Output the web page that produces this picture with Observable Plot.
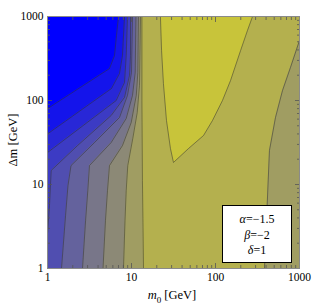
<!DOCTYPE html>
<html><head><meta charset="utf-8">
<script src="https://cdn.jsdelivr.net/npm/d3@7"></script>
<script src="https://cdn.jsdelivr.net/npm/@observablehq/plot@0.6"></script>
<style>
html,body{margin:0;padding:0;background:#fff;}
#wrap{position:relative;width:312px;height:304px;font-family:"Liberation Serif",serif;color:#000;}
#wrap svg{position:absolute;left:0;top:0;}
.xlab{position:absolute;left:122px;width:100px;top:288px;text-align:center;font-size:12.5px;line-height:14px;}
.ylab{position:absolute;left:-37px;top:133px;width:100px;text-align:center;font-size:12.5px;line-height:14px;transform:rotate(-90deg);}
.legend{position:absolute;left:222px;top:205px;width:68px;height:50px;border:1.5px solid #000;background:#fff;text-align:center;font-size:12px;line-height:15.5px;padding-top:6px;box-sizing:content-box;}
</style></head><body><div id="wrap"></div>
<script>
// axis ticks
const majorTicks = [1, 10, 100, 1000];
const minorTicks = [2,3,4,5,6,7,8,9,20,30,40,50,60,70,80,90,200,300,400,500,600,700,800,900];

// contour lines, [m0, Δm] in GeV (left → right)
const contourA = [[7.0,1000],[6.63,594],[6.28,343],[5.47,240],[1.0,80],[0.48,49],[0.48,1]];
const contourB = [[8.26,1000],[7.81,343],[7.20,210],[5.78,139],[1.0,40],[0.48,24],[0.48,1]];
const contourC = [[8.96,1000],[8.65,343],[8.26,164],[6.58,100],[1.0,24],[0.48,13.7],[0.48,1]];
const contourD = [[9.73,1000],[9.73,343],[9.47,199],[8.26,109],[5.73,66.3],[2.28,29.1],[1.107,14.7],[1.056,5.62],[1.0,2.61],[0.947,1]];
const contourE = [[10.28,1000],[10.0,215],[8.96,115],[7.20,62.8],[3.63,31.6],[1.905,16.8],[1.754,9.73],[1.64,4.28],[1.468,1]];
const contourF = [[11.3,1000],[11.07,215],[10.28,115],[8.65,61.1],[5.73,31.6],[3.16,16.8],[3.02,8.48],[2.84,3.73],[2.61,1]];
const contourG = [[12.1,1000],[11.9,215],[11.4,115],[9.92,54.7],[7.81,29.1],[5.47,16.8],[5.18,8.48],[4.90,3.73],[4.58,1]];
const contourH = [[12.8,1000],[12.6,343],[12.45,151],[11.7,72],[10.36,35.3],[9.03,16.8],[8.65,8.48],[8.37,3.73],[8.03,1]];
const contourI = [[13.3,1000],[13.3,100],[13.5,11.2],[13.9,1]];
// closed peak region (top middle)
const peakLeft = [[22.1,1000],[22.8,394],[24.0,159],[26.1,57.8],[29.1,26.8],[31.6,18.3]];
const peakRight = [[47.7,26.8],[72,38.3],[92.1,57.8],[121,100],[151,173],[199,394],[240,681],[276,1000]];
// right-hand contour
const contourL = [[383,1],[405,3.73],[439,25.4],[518,62.8],[628,131.5],[781,247],[1000,518],[1245,1000]];

// contour level colours, blue (low) → yellow (high)
const levelColors = ["#0000ff","#1414eb","#2827d7","#3c3bc4","#504eb0","#64629d","#787689","#8c8976","#a09d62","#b4b04e","#c8c43a"];

const rows = a => a.map(([x, y]) => ({x, y}));
const leftSide = [
  [contourI, 8],[contourH, 7],[contourG, 6],[contourF, 5],[contourE, 4],
  [contourD, 3],[contourC, 2],[contourB, 1],[contourA, 0]
];
const lineStyle = {stroke: "#2a2a2a", strokeOpacity: 0.6, strokeWidth: 0.8, clip: true};
const tickStyle = {stroke: "#555", strokeWidth: 0.8, label: null, tickFormat: () => ""};

const marks = [
  Plot.frame({fill: levelColors[9], stroke: null}),
  Plot.areaX(rows(contourL), {y: "y", x1: "x", x2: () => 5000, fill: levelColors[8], clip: true}),
  Plot.line(rows(peakLeft.concat(peakRight)), {x: "x", y: "y", fill: levelColors[10], stroke: "none", clip: true}),
  ...leftSide.map(([c, lev]) => Plot.areaX(rows(c), {y: "y", x1: () => 0.3, x2: "x", fill: levelColors[lev], clip: true})),
  ...leftSide.map(([c]) => Plot.line(rows(c), {x: "x", y: "y", ...lineStyle})),
  Plot.line(rows(contourL), {x: "x", y: "y", ...lineStyle}),
  Plot.line(rows(peakLeft.concat(peakRight)), {x: "x", y: "y", ...lineStyle}),
  // inward frame ticks on all four sides
  Plot.axisX(minorTicks, {anchor: "bottom", tickSize: -3, ...tickStyle}),
  Plot.axisX(majorTicks, {anchor: "bottom", tickSize: -5, ...tickStyle}),
  Plot.axisX(minorTicks, {anchor: "top", tickSize: -3, ...tickStyle}),
  Plot.axisX(majorTicks, {anchor: "top", tickSize: -5, ...tickStyle}),
  Plot.axisY(minorTicks, {anchor: "left", tickSize: -3, ...tickStyle}),
  Plot.axisY(majorTicks, {anchor: "left", tickSize: -5, ...tickStyle}),
  Plot.axisY(minorTicks, {anchor: "right", tickSize: -3, ...tickStyle}),
  Plot.axisY(majorTicks, {anchor: "right", tickSize: -5, ...tickStyle}),
  // tick labels
  Plot.axisX(majorTicks, {anchor: "bottom", tickSize: 0, tickPadding: 4, label: null, tickFormat: d => String(d), fontSize: 11.5}),
  Plot.axisY(majorTicks, {anchor: "left", tickSize: 0, tickPadding: 4, label: null, tickFormat: d => String(d), fontSize: 11.5}),
  Plot.frame({stroke: "#8a8a8a", strokeWidth: 1})
];

const chart = Plot.plot({
  width: 312, height: 304,
  marginLeft: 47, marginRight: 13, marginTop: 16, marginBottom: 36,
  style: {fontFamily: "Liberation Serif", fontSize: "11.5px", background: "#fff", color: "#000"},
  x: {type: "log", domain: [1, 1000], label: null},
  y: {type: "log", domain: [1, 1000], label: null},
  marks
});

const wrap = document.getElementById("wrap");
wrap.appendChild(chart);
wrap.insertAdjacentHTML("beforeend",
  '<div class="xlab"><i>m</i><sub style="font-size:9px">0</sub> [GeV]</div>' +
  '<div class="ylab">Δm [GeV]</div>' +
  '<div class="legend"><i>α</i>=−1.5<br><i>β</i>=−2<br><i>δ</i>=1</div>');
</script>
</body></html>
